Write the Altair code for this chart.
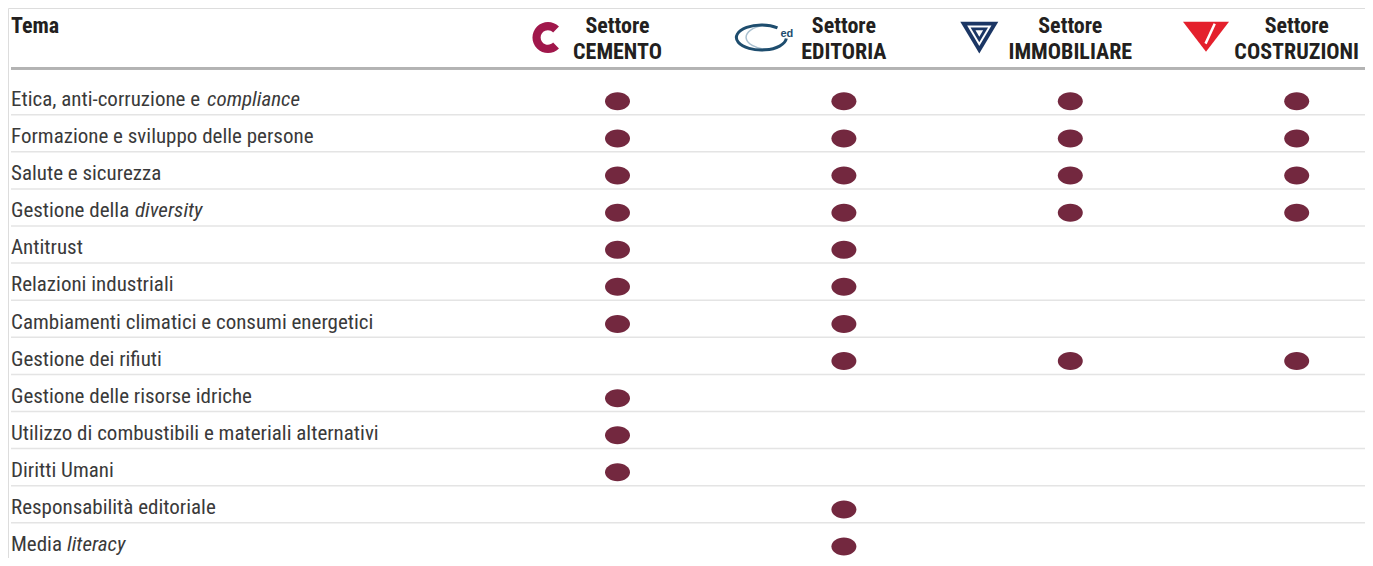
import altair as alt
import pandas as pd

# ---------------- data ----------------
temi = [
    "Etica, anti-corruzione e compliance",
    "Formazione e sviluppo delle persone",
    "Salute e sicurezza",
    "Gestione della diversity",
    "Antitrust",
    "Relazioni industriali",
    "Cambiamenti climatici e consumi energetici",
    "Gestione dei rifiuti",
    "Gestione delle risorse idriche",
    "Utilizzo di combustibili e materiali alternativi",
    "Diritti Umani",
    "Responsabilità editoriale",
    "Media literacy",
]
# regular / italic parts of each label
temi_regular = [
    "Etica, anti-corruzione e", "Formazione e sviluppo delle persone", "Salute e sicurezza",
    "Gestione della", "Antitrust", "Relazioni industriali",
    "Cambiamenti climatici e consumi energetici", "Gestione dei rifiuti",
    "Gestione delle risorse idriche", "Utilizzo di combustibili e materiali alternativi",
    "Diritti Umani", "Responsabilità editoriale", "Media",
]
temi_italic = ["compliance", "", "", "diversity", "", "", "", "", "", "", "", "", "literacy"]

settori = ["CEMENTO", "EDITORIA", "IMMOBILIARE", "COSTRUZIONI"]
header_line1 = ["Settore", "Settore", "Settore", "Settore"]

# 1 = material topic for the sector
cemento     = [1, 1, 1, 1, 1, 1, 1, 0, 1, 1, 1, 0, 0]
editoria    = [1, 1, 1, 1, 1, 1, 1, 1, 0, 0, 0, 1, 1]
immobiliare = [1, 1, 1, 1, 0, 0, 0, 1, 0, 0, 0, 0, 0]
costruzioni = [1, 1, 1, 1, 0, 0, 0, 1, 0, 0, 0, 0, 0]

# ---------------- styles ----------------
FONT = "Liberation Sans Narrow, Arial Narrow, Roboto Condensed, DejaVu Sans Condensed, Liberation Sans, sans-serif"
TEXT_COLOR = "#3a3a3a"
HEAD_COLOR = "#231f20"
DOT_COLOR = "#73283f"
FS = 21
W, H = 1357, 550
ROW_TOP, ROW_PITCH = 69.6, 37.1
ITALIC_DX = {"compliance": 196, "diversity": 124, "literacy": 56}

# ---------------- tables ----------------
rows = pd.DataFrame({"tema": temi, "regular": temi_regular, "italic": temi_italic})
flags = {"CEMENTO": cemento, "EDITORIA": editoria, "IMMOBILIARE": immobiliare, "COSTRUZIONI": costruzioni}
dots = pd.DataFrame(
    [{"tema": t, "settore": s} for s in settori for t, f in zip(temi, flags[s]) if f]
)
heads = pd.DataFrame({"settore": settori, "l1": header_line1, "l2": settori})
seps = pd.DataFrame({"tema": temi[1:]})

XS = alt.Scale(type="point", domain=settori, range=[609.5, 1288.7], padding=0)
YS = alt.Scale(type="band", domain=temi, range=[ROW_TOP, ROW_TOP + 13 * ROW_PITCH],
               paddingInner=0, paddingOuter=0)
X = alt.X("settore:N", scale=XS, axis=None)
Y = alt.Y("tema:N", scale=YS, axis=None)

# separators
sep = alt.Chart(seps).mark_rule(color="#e4e4e4", strokeWidth=1.5).encode(
    y=alt.Y("tema:N", scale=YS, axis=None, bandPosition=0),
    x=alt.value(3), x2=alt.value(W),
)
head_rule = alt.Chart(seps).mark_rule(color="#b3b3b3", strokeWidth=2).encode(
    y=alt.value(60.3), x=alt.value(3), x2=alt.value(W),
)

labels = alt.Chart(rows).mark_text(
    align="left", baseline="alphabetic", dy=9.8, font=FONT, fontSize=FS, color=TEXT_COLOR
).encode(x=alt.value(3), y=Y, text="regular:N")

italic_layers = []
for word, dx in ITALIC_DX.items():
    italic_layers.append(
        alt.Chart(rows).transform_filter(alt.datum.italic == word).mark_text(
            align="left", baseline="alphabetic", dy=9.8, dx=dx, font=FONT, fontSize=FS,
            fontStyle="italic", color=TEXT_COLOR
        ).encode(x=alt.value(3), y=Y, text="italic:N")
    )

ELLIPSE = "M -1 0 A 1 0.72 0 1 0 1 0 A 1 0.72 0 1 0 -1 0 Z"
points = alt.Chart(dots).mark_point(
    shape=ELLIPSE, size=625, filled=True, fill=DOT_COLOR, opacity=1, strokeWidth=0, yOffset=5.2
).encode(x=X, y=Y)

tema_head = alt.Chart(heads).transform_filter(alt.datum.settore == "CEMENTO").mark_text(
    align="left", baseline="alphabetic", font=FONT, fontSize=22, fontWeight="bold", color=HEAD_COLOR
).encode(x=alt.value(3), y=alt.value(25), text=alt.value("Tema"))

h1 = alt.Chart(heads).mark_text(
    align="center", baseline="alphabetic", font=FONT, fontSize=22, fontWeight="bold", color=HEAD_COLOR
).encode(x=X, y=alt.value(25), text="l1:N")
h2 = alt.Chart(heads).mark_text(
    align="center", baseline="alphabetic", font=FONT, fontSize=22, fontWeight="bold", color=HEAD_COLOR
).encode(x=X, y=alt.value(51.3), text="l2:N")

# ---------------- logos ----------------
C_PATH = "M 0.707 0.707 A 1 1 0 1 1 0.707 -0.707 L 0.33 -0.33 A 0.47 0.47 0 1 0 0.33 0.33 Z"
RING = "M 0.643 -0.383 A 1 0.5 0 1 0 0.996 0.044"
RING2 = "M 0.2 -0.49 A 1 0.5 0 0 0 0.3 0.48"
TRI_I = "M -1 -0.5685 L 1 -0.5685 L 0 1.1115 Z"
TRI_C = "M -1 -0.652 L 1 -0.652 L 0 0.652 Z"
SLASH = "M 0.38 -0.56 L -0.02 0.3"

def sym(sector, y, **mk):
    return alt.Chart(heads).transform_filter(alt.datum.settore == sector).mark_point(
        opacity=1, **mk
    ).encode(x=X, y=alt.value(y))

logos = [
    sym("CEMENTO", 29.5, shape=C_PATH, size=961, filled=True, fill="#a0174b", strokeWidth=0, xOffset=-69.5),
    sym("EDITORIA", 29.5, shape=RING2, size=2500, filled=False, stroke="#a9c0d0", strokeWidth=1.5, xOffset=-85),
    sym("EDITORIA", 29.5, shape=RING, size=2500, filled=False, stroke="#1e4d6e", strokeWidth=3, xOffset=-82.5),
    sym("IMMOBILIARE", 24.5, shape=TRI_I, size=1444, filled=True, fill="#1b3664", strokeWidth=0, xOffset=-91),
    sym("IMMOBILIARE", 24.5, shape=TRI_I, size=1444 * 0.64 ** 2, filled=True, fill="white", strokeWidth=0, xOffset=-91),
    sym("IMMOBILIARE", 24.5, shape=TRI_I, size=1444 * 0.46 ** 2, filled=True, fill="#1b3664", strokeWidth=0, xOffset=-91),
    sym("IMMOBILIARE", 24.5, shape=TRI_I, size=1444 * 0.2 ** 2, filled=True, fill="white", strokeWidth=0, xOffset=-91),
    sym("COSTRUZIONI", 28.7, shape=TRI_C, size=2116, filled=True, fill="#e4202c", strokeWidth=0, xOffset=-90.7),
    sym("COSTRUZIONI", 28.7, shape=SLASH, size=2116, filled=False, stroke="white", strokeWidth=2.5, xOffset=-90.7),
]
ed_text = alt.Chart(heads).transform_filter(alt.datum.settore == "EDITORIA").mark_text(
    align="center", baseline="middle", font="Liberation Sans, sans-serif", fontSize=11,
    fontWeight="bold", color="#1e4d6e", dx=-57
).encode(x=X, y=alt.value(25.5), text=alt.value("ed"))

chart = alt.layer(
    sep, head_rule, labels, *italic_layers, points, tema_head, h1, h2, *logos, ed_text
).properties(
    width=W, height=H, padding=0, autosize=alt.AutoSizeParams(type="none")
).configure_view(stroke=None).configure(background="white")

chart.save("out.html", embed_options={"renderer": "svg", "actions": False})
